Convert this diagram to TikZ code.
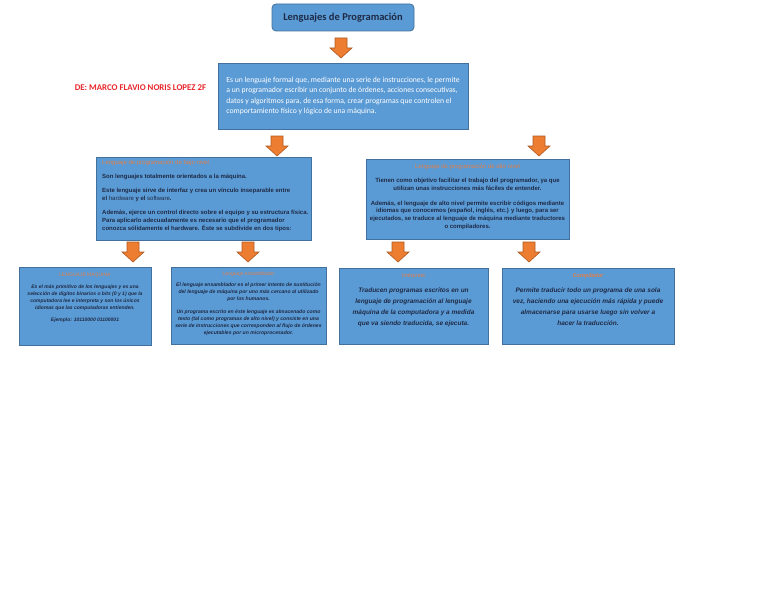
\documentclass[tikz,border=0pt]{standalone}
\usepackage{fontspec}
\setmainfont{Liberation Sans}
\newfontfamily\calibri{Carlito}
\usetikzlibrary{positioning}
\definecolor{boxblue}{HTML}{5B9BD5}
\definecolor{boxline}{HTML}{41719C}
\definecolor{inktext}{HTML}{1E2A45}
\definecolor{titleorange}{HTML}{E0804A}
\definecolor{arrowfill}{HTML}{ED7D31}
\definecolor{arrowline}{HTML}{AE5A21}
\definecolor{authorred}{HTML}{E8262A}
\tikzset{
  panel/.style={draw=boxline, fill=boxblue, line width=0.8pt, inner sep=0pt},
  downarr/.pic={\filldraw[draw=arrowline, fill=arrowfill, line width=0.6pt]
    (-6,-10) -- (6,-10) -- (6,0) -- (11,0) -- (0,10) -- (-11,0) -- (-6,0) -- cycle;},
  txt/.style={inner sep=0pt, text=inktext, font=\bfseries},
  head/.style={text=titleorange}
}

\begin{document}
\begin{tikzpicture}[x=1pt, y=-1pt]
\useasboundingbox (0,0) rectangle (768,594);
% top title and general description
\node[panel, rounded corners=4pt, minimum width=142pt, minimum height=27pt,
  font=\calibri\bfseries\fontsize{10.5}{12}\selectfont, text=inktext] (title) at (343,17.5) {Lenguajes de Programación};
\pic (arr1) at (341,48) {downarr};
\node[panel, minimum width=250pt, minimum height=66pt] (desc) at (343,96) {};
\node[inner sep=0pt, text=white, align=left, font=\calibri\fontsize{7.7}{10.6}\selectfont] (desctxt) at (desc.center)
  {Es un lenguaje formal que, mediante una serie de instrucciones, le permite\\
   a un programador escribir un conjunto de órdenes, acciones consecutivas,\\
   datos y algoritmos para, de esa forma, crear programas que controlen el\\
   comportamiento físico y lógico de una máquina.};
\node[font=\calibri\bfseries\fontsize{8.8}{10}\selectfont, text=authorred, inner sep=0pt] (author) at (140.5,88) {DE: MARCO FLAVIO NORIS LOPEZ 2F};

% second level
\pic (arr2) at (277,146) {downarr};
\pic (arr3) at (539,146) {downarr};
\node[panel, minimum width=215pt, minimum height=83pt] (low) at (203.5,198.5) {};
\node[txt, align=left, font=\bfseries\fontsize{6}{8}\selectfont, anchor=north west] (lowtxt) at (102,160)
  {{\color{titleorange}\mdseries Lenguaje de programación de bajo nivel}\\[6pt]
   Son lenguajes totalmente orientados a la máquina.\\[6pt]
   Este lenguaje sirve de interfaz y crea un vínculo inseparable entre\\
   el {\mdseries hardware} y el {\mdseries software}.\\[6pt]
   Además, ejerce un control directo sobre el equipo y su estructura física.\\
   Para aplicarlo adecuadamente es necesario que el programador\\
   conozca sólidamente el hardware. Éste se subdivide en dos tipos:};
\node[panel, minimum width=203pt, minimum height=80pt] (high) at (467.5,199) {};
\node[txt, align=center, font=\bfseries\fontsize{6}{7.8}\selectfont, anchor=north] (hightxt) at (467.5,164)
  {{\color{titleorange}\mdseries Lenguaje de programación de alto nivel}\\[6pt]
   Tienen como objetivo facilitar el trabajo del programador, ya que\\
   utilizan unas instrucciones más fáciles de entender.\\[7pt]
   Además, el lenguaje de alto nivel permite escribir códigos mediante\\
   idiomas que conocemos (español, inglés, etc.) y luego, para ser\\
   ejecutados, se traduce al lenguaje de máquina mediante traductores\\
   o compiladores.};

% third level
\pic (arr4) at (133,252) {downarr};
\pic (arr5) at (248,252) {downarr};
\pic (arr6) at (398,252) {downarr};
\pic (arr7) at (529,252) {downarr};

\node[panel, minimum width=132pt, minimum height=78pt] (mach) at (85,306) {};
\node[txt, align=center, font=\bfseries\itshape\fontsize{5}{7}\selectfont, anchor=north] (machtxt) at (85,271.5)
  {{\color{titleorange}\upshape\mdseries LENGUAJE MÁQUINA}\\[5pt]
   Es el más primitivo de los lenguajes y es una\\
   selección de dígitos binarios o bits (0 y 1) que la\\
   computadora lee e interpreta y son los únicos\\
   idiomas que las computadoras entienden.\\[5pt]
   Ejemplo: 10110000 01100001};
\node[panel, minimum width=155pt, minimum height=77pt] (asm) at (248.5,305.5) {};
\node[txt, align=center, font=\bfseries\itshape\fontsize{5.1}{7}\selectfont, anchor=north] (asmtxt) at (248.5,271.5)
  {{\color{titleorange}\upshape\mdseries Lenguaje ensamblador}\\[4pt]
   El lenguaje ensamblador es el primer intento de sustitución\\
   del lenguaje de máquina por uno más cercano al utilizado\\
   por los humanos.\\[6pt]
   Un programa escrito en éste lenguaje es almacenado como\\
   texto (tal como programas de alto nivel) y consiste en una\\
   serie de instrucciones que corresponden al flujo de órdenes\\
   ejecutables por un microprocesador.};
\node[panel, minimum width=149pt, minimum height=76pt] (interp) at (413.5,306) {};
\node[txt, align=center, font=\bfseries\itshape\fontsize{6.5}{11}\selectfont, anchor=north] (interptxt) at (413.5,273.5)
  {{\color{titleorange}\upshape\mdseries\fontsize{5.5}{6}\selectfont Intérprete}\\[4pt]
   Traducen programas escritos en un\\
   lenguaje de programación al lenguaje\\
   máquina de la computadora y a medida\\
   que va siendo traducida, se ejecuta.};
\node[panel, minimum width=172pt, minimum height=76pt] (comp) at (588,306) {};
\node[txt, align=center, font=\bfseries\itshape\fontsize{6.5}{11}\selectfont, anchor=north] (comptxt) at (588,273.5)
  {{\color{titleorange}\fontsize{5.5}{6}\selectfont Compilador}\\[4pt]
   Permite traducir todo un programa de una sola\\
   vez, haciendo una ejecución más rápida y puede\\
   almacenarse para usarse luego sin volver a\\
   hacer la traducción.};
\end{tikzpicture}
\end{document}
